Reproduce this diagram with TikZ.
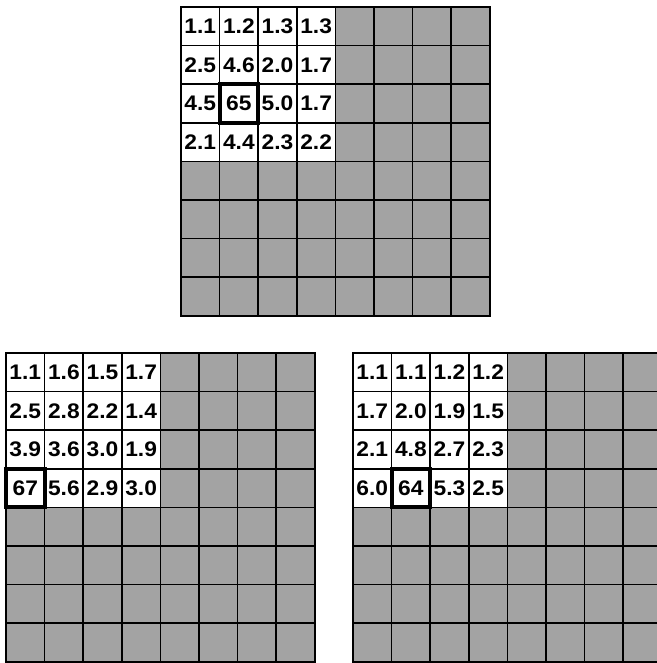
\documentclass[tikz,border=0pt]{standalone}
\usepackage{fontspec}
\setmainfont{Liberation Sans}[FakeStretch=1.08]
\usetikzlibrary{positioning}

\begin{document}
\begin{tikzpicture}[x=0.04cm, y=-0.04cm, font=\fontsize{24}{24}\selectfont\bfseries,
  cell/.style={draw, line width=1.7pt, fill=black!36, minimum size=1.544cm, inner sep=0pt, outer sep=0pt},
  val/.style={cell, fill=white},
  hit/.style={draw, line width=4.5pt, minimum size=1.544cm, inner sep=0pt, outer sep=0pt}]
\useasboundingbox (0,0) rectangle (657,663);
\foreach \g/\ox/\oy in {t/181/7, l/6/353, r/353/353} {
  \foreach \i in {0,...,7}
    \foreach \j in {0,...,7}
      \node[cell] (\g\i\j) at (\ox+38.6*\j+19.3, \oy+38.6*\i+19.3) {};
  \draw[line width=2.2pt] (\g00.north west) rectangle (\g77.south east);
}
\foreach \a/\b/\c/\d [count=\i from 0] in {1.1/1.2/1.3/1.3, 2.5/4.6/2.0/1.7, 4.5/65/5.0/1.7, 2.1/4.4/2.3/2.2} {
  \foreach \v [count=\j from 0] in {\a,\b,\c,\d}
    \node[val] (tv\i\j) at (t\i\j) {\v};
}
\foreach \a/\b/\c/\d [count=\i from 0] in {1.1/1.6/1.5/1.7, 2.5/2.8/2.2/1.4, 3.9/3.6/3.0/1.9, 67/5.6/2.9/3.0} {
  \foreach \v [count=\j from 0] in {\a,\b,\c,\d}
    \node[val] (lv\i\j) at (l\i\j) {\v};
}
\foreach \a/\b/\c/\d [count=\i from 0] in {1.1/1.1/1.2/1.2, 1.7/2.0/1.9/1.5, 2.1/4.8/2.7/2.3, 6.0/64/5.3/2.5} {
  \foreach \v [count=\j from 0] in {\a,\b,\c,\d}
    \node[val] (rv\i\j) at (r\i\j) {\v};
}
\node[hit] (tmax) at (t21) {};
\node[hit] (lmax) at (l30) {};
\node[hit] (rmax) at (r31) {};
\end{tikzpicture}
\end{document}
